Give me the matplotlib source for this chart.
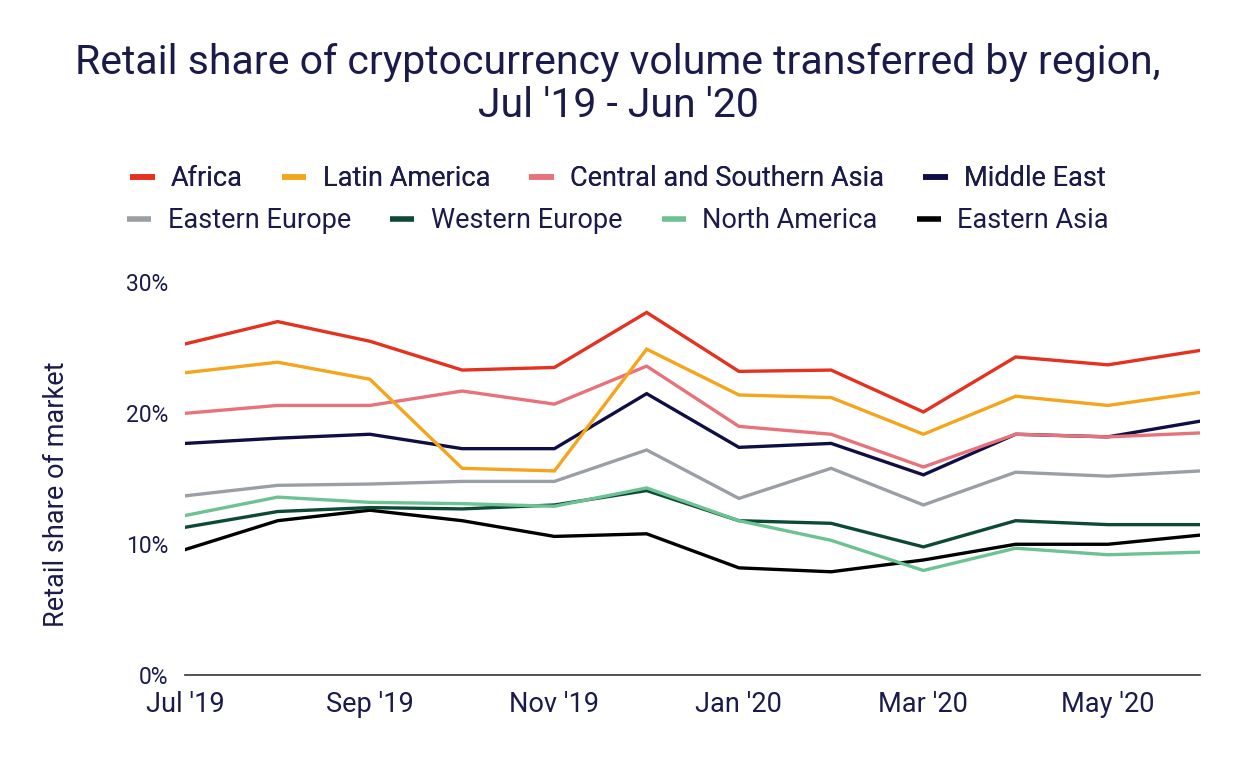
import matplotlib.pyplot as plt
from matplotlib.ticker import FuncFormatter
from matplotlib.lines import Line2D

plt.rcParams['font.family'] = ['Roboto', 'DejaVu Sans']

months = ["Jul '19", "Aug '19", "Sep '19", "Oct '19", "Nov '19", "Dec '19",
          "Jan '20", "Feb '20", "Mar '20", "Apr '20", "May '20", "Jun '20"]

africa = [25.3, 27.0, 25.5, 23.3, 23.5, 27.7, 23.2, 23.3, 20.1, 24.3, 23.7, 24.8]
latin_america = [23.1, 23.9, 22.6, 15.8, 15.6, 24.9, 21.4, 21.2, 18.4, 21.3, 20.6, 21.6]
central_southern_asia = [20.0, 20.6, 20.6, 21.7, 20.7, 23.6, 19.0, 18.4, 15.9, 18.4, 18.2, 18.5]
middle_east = [17.7, 18.1, 18.4, 17.3, 17.3, 21.5, 17.4, 17.7, 15.3, 18.4, 18.2, 19.4]
eastern_europe = [13.7, 14.5, 14.6, 14.8, 14.8, 17.2, 13.5, 15.8, 13.0, 15.5, 15.2, 15.6]
western_europe = [11.3, 12.5, 12.8, 12.7, 13.0, 14.1, 11.8, 11.6, 9.8, 11.8, 11.5, 11.5]
north_america = [12.2, 13.6, 13.2, 13.1, 12.9, 14.3, 11.8, 10.3, 8.0, 9.7, 9.2, 9.4]
eastern_asia = [9.6, 11.8, 12.6, 11.8, 10.6, 10.8, 8.2, 7.9, 8.8, 10.0, 10.0, 10.7]

series = [
    ("Africa", africa, "#e5311f"),
    ("Latin America", latin_america, "#f4a51c"),
    ("Central and Southern Asia", central_southern_asia, "#e8727b"),
    ("Middle East", middle_east, "#0f0f45"),
    ("Eastern Europe", eastern_europe, "#9a9fa5"),
    ("Western Europe", western_europe, "#0c4a35"),
    ("North America", north_america, "#6cc292"),
    ("Eastern Asia", eastern_asia, "#000000"),
]
draw_order = ["Eastern Asia", "Western Europe", "North America", "Eastern Europe",
              "Middle East", "Central and Southern Asia", "Latin America", "Africa"]

navy = "#1b1b4b"

fig = plt.figure(figsize=(12.36, 7.63), dpi=100)
ax = fig.add_axes([0.150, 0.115, 0.821, 0.515])

x = list(range(len(months)))
for name in draw_order:
    vals, col = [(v, c) for n, v, c in series if n == name][0]
    ax.plot(x, vals, color=col, lw=2.4, label=name, solid_joinstyle='miter')

ax.set_xlim(0, len(months) - 1)
ax.set_ylim(0, 30)
ax.set_yticks([0, 10, 20, 30])
ax.yaxis.set_major_formatter(FuncFormatter(lambda v, p: f"{v:.0f}%"))
ax.set_xticks(x[::2])
ax.set_xticklabels(months[::2])
ax.tick_params(length=0, colors=navy)
ax.tick_params(axis='x', labelsize=19.5, pad=11)
ax.tick_params(axis='y', labelsize=16.5, pad=12)
for s in ["top", "right", "left"]:
    ax.spines[s].set_visible(False)
ax.spines["bottom"].set_color("#333333")
ax.spines["bottom"].set_linewidth(1.2)
ax.set_ylabel("Retail share of market", fontsize=19.5, color=navy)
ax.yaxis.set_label_coords(-0.114, 0.46)

fig.text(0.5, 0.918, "Retail share of cryptocurrency volume transferred by region,",
         ha="center", va="center", fontsize=29.5, color=navy)
fig.text(0.5, 0.862, "Jul '19 - Jun '20", ha="center", va="center", fontsize=29.5, color=navy)

names = [n for n, _, _ in series]


def proxy(name):
    c = [c for n, _, c in series if n == name][0]
    return Line2D([], [], color=c, lw=4, solid_capstyle='butt')


legend_kw = dict(loc="center", ncol=4, frameon=False, fontsize=19.5,
                 handlelength=0.9, handletextpad=0.6, columnspacing=1.45,
                 labelcolor=navy)
leg1 = fig.legend([proxy(n) for n in names[:4]], names[:4],
                  bbox_to_anchor=(0.5, 0.766), **legend_kw)
leg2 = fig.legend([proxy(n) for n in names[4:]], names[4:],
                  bbox_to_anchor=(0.5, 0.711), **legend_kw)
fig.add_artist(leg1)

fig.savefig("out.png", dpi=100)
